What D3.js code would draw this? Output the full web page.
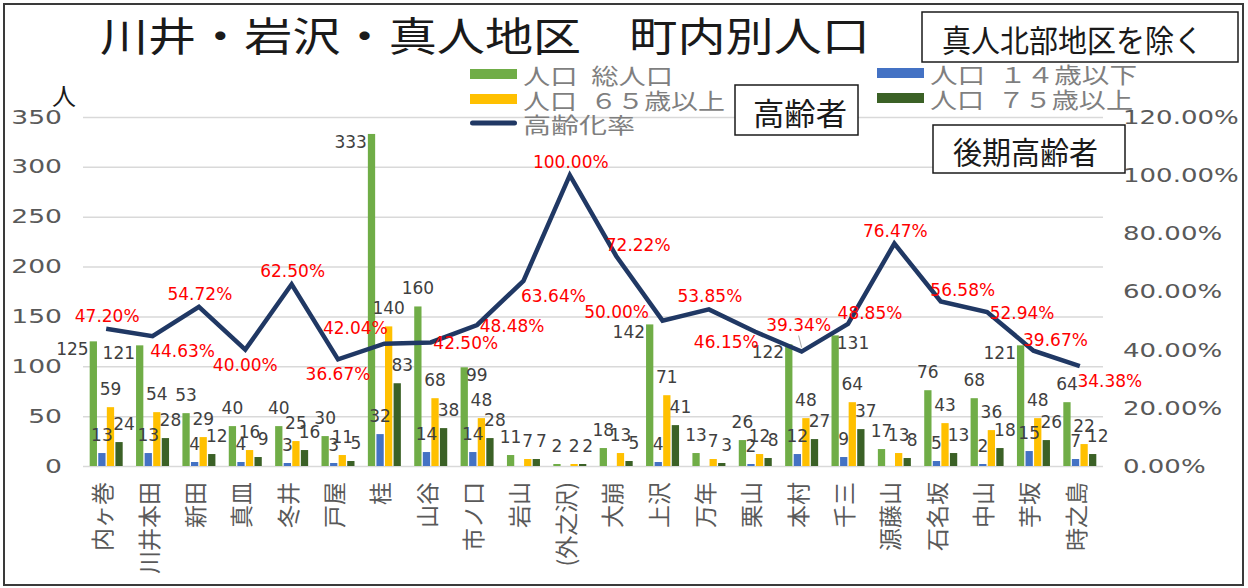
<!DOCTYPE html>
<html>
<head>
<meta charset="utf-8">
<script src="https://cdn.jsdelivr.net/npm/d3@7"></script>
<style>
  body { margin: 0; background: #fff; }
  svg { display: block; }
</style>
</head>
<body>
<div id="chart"></div>
<script>
// --- data ---
const categories = ["内ヶ巻", "川井本田", "新田", "真皿", "冬井", "戸屋", "桂", "山谷", "市ノ口", "岩山", "(外之沢)",
    "大崩", "上沢", "万年", "栗山", "本村", "千三", "源藤山", "石名坂", "中山", "芋坂", "時之島"];
const totalPop = [125, 121, 53, 40, 40, 30, 333, 160, 99, 11, 2, 18, 142, 13, 26, 122, 131, 17, 76, 68, 121, 64];
const under14  = [13, 13, 4, 4, 3, 3, 32, 14, 14, null, null, null, 4, null, 2, 12, 9, null, 5, 2, 15, 7];
const over65   = [59, 54, 29, 16, 25, 11, 140, 68, 48, 7, 2, 13, 71, 7, 12, 48, 64, 13, 43, 36, 48, 22];
const over75   = [24, 28, 12, 9, 16, 5, 83, 38, 28, 7, 2, 5, 41, 3, 8, 27, 37, 8, 13, 18, 26, 12];
const agingRate = [47.20, 44.63, 54.72, 40.00, 62.50, 36.67, 42.04, 42.50, 48.48, 63.64, 100.00,
    72.22, 50.00, 53.85, 46.15, 39.34, 48.85, 76.47, 56.58, 52.94, 39.67, 34.38];

const seriesNames = ["人口\u2002総人口", "人口\u2002１４歳以下", "人口\u2002６５歳以上", "人口\u2002７５歳以上"];
const rateName = "高齢化率";
const leftTicks = [0, 50, 100, 150, 200, 250, 300, 350];
const rightTicks = [0, 0.2, 0.4, 0.6, 0.8, 1.0, 1.2];

// where the labels were dragged to in the original (placement keywords, not data)
const totalLabelSide = ["l", "l", "t", "t", "t", "t", "l", "t", "r", "t", "t", "t", "l", "t", "t", "l", "r", "t", "t", "t", "l", "t"];
const rateLabelSide = ["t", "br", "t", "b", "t", "b", "tl", "r", "r", "br", "t", "tr", "l", "t", "bl", "tt", "tr", "t", "tr", "r", "tr", "br"];

const colors = ["#70ad47", "#4472c4", "#ffc000", "#3b6126"];
const lineColor = "#203864";
const jp = "'Noto Sans CJK JP', 'Noto Sans', sans-serif";
const num = "'DejaVu Sans', sans-serif";

const W = 1248, H = 588;
const plot = { left: 83, right: 1103, top: 117, bottom: 466 };

const svg = d3.select("#chart").append("svg")
    .attr("width", W)
    .attr("height", H);

svg.append("rect")
    .attr("x", 4).attr("y", 4)
    .attr("width", 1239).attr("height", 581)
    .attr("fill", "#fff")
    .attr("stroke", "#3a3a3a")
    .attr("stroke-width", 2);

function widen(sel, k) {
    sel.each(function () {
        const w = this.getComputedTextLength();
        d3.select(this).attr("textLength", w * k).attr("lengthAdjust", "spacingAndGlyphs");
    });
}

const x = d3.scaleBand().domain(categories).range([plot.left, plot.right]);
const x1 = d3.scaleBand().domain(d3.range(4)).range([-16.5, 16.5]).paddingInner(0.15);
const y = d3.scaleLinear().domain([0, 350]).range([plot.bottom, plot.top]);
const y2 = d3.scaleLinear().domain([0, 1.2]).range([plot.bottom, plot.top]);
const cx = c => x(c) + x.bandwidth() / 2;

// gridlines
const grid = svg.append("g")
    .attr("transform", `translate(${plot.left},0)`)
    .call(d3.axisLeft(y).tickValues(leftTicks).tickSize(-(plot.right - plot.left)).tickFormat(""));
grid.select(".domain").remove();
grid.selectAll("line").attr("stroke", "#d9d9d9").attr("stroke-width", 1.5);

// left axis labels
const yAxis = svg.append("g")
    .attr("transform", `translate(${plot.left},0)`)
    .call(d3.axisLeft(y).tickValues(leftTicks).tickSize(0).tickPadding(21));
yAxis.select(".domain").remove();
yAxis.selectAll("text")
    .attr("fill", "#595959")
    .style("font-family", num)
    .style("font-size", "19px");
widen(yAxis.selectAll("text"), 1.4);

// right axis labels
const y2Axis = svg.append("g")
    .attr("transform", `translate(${plot.right},0)`)
    .call(d3.axisRight(y2).tickValues(rightTicks).tickSize(0).tickPadding(20)
        .tickFormat(d => (d * 100).toFixed(2) + "%"));
y2Axis.select(".domain").remove();
y2Axis.selectAll("text")
    .attr("fill", "#595959")
    .style("font-family", num)
    .style("font-size", "20px");
widen(y2Axis.selectAll("text"), 1.3);

// category labels
svg.append("g").selectAll("text")
    .data(categories)
    .enter()
    .append("text")
    .attr("transform", d => `translate(${cx(d) - 5},482) rotate(-90)`)
    .attr("text-anchor", "end")
    .attr("dominant-baseline", "central")
    .attr("fill", "#595959")
    .style("font-family", jp)
    .style("font-size", "23px")
    .text(d => d);

// bars
const rows = categories.map((c, i) => ({
    c: c,
    vals: [totalPop[i], under14[i], over65[i], over75[i]],
    side: totalLabelSide[i]
}));

const groups = svg.append("g").selectAll("g")
    .data(rows)
    .enter()
    .append("g")
    .attr("transform", d => `translate(${cx(d.c)},0)`);

groups.selectAll("rect")
    .data(d => d.vals.map((v, k) => ({ v: v, k: k })).filter(e => e.v != null))
    .enter()
    .append("rect")
    .attr("x", e => x1(e.k))
    .attr("y", e => y(e.v))
    .attr("width", x1.bandwidth())
    .attr("height", e => y(0) - y(e.v))
    .attr("fill", e => colors[e.k]);

// bar value labels
groups.selectAll("text")
    .data(d => d.vals.map((v, k) => ({ v: v, k: k, side: d.side })).filter(e => e.v != null))
    .enter()
    .append("text")
    .attr("x", e => {
        if (e.k === 0 && e.side === "l") return x1(0) - 1;
        if (e.k === 0 && e.side === "r") return x1(0) + x1.bandwidth() - 2;
        return x1(e.k) + x1.bandwidth() / 2 + (e.k === 3 ? 5 : 0);
    })
    .attr("y", e => {
        if (e.k === 0 && e.side !== "t") return y(e.v) + 8;
        return y(e.v) - 18;
    })
    .attr("dominant-baseline", "central")
    .attr("text-anchor", e => {
        if (e.k === 0 && e.side === "l") return "end";
        if (e.k === 0 && e.side === "r") return "start";
        return "middle";
    })
    .attr("fill", "#404040")
    .style("font-family", num)
    .style("font-size", "17px")
    .text(e => e.v);

// aging rate line
const line = d3.line()
    .x((d, i) => cx(categories[i]))
    .y(d => y2(d / 100));

svg.append("path")
    .datum(agingRate)
    .attr("d", line)
    .attr("fill", "none")
    .attr("stroke", lineColor)
    .attr("stroke-width", 4.5);

const nudge = {
    t: [1, -13], tt: [-3, -27], b: [0, 15], r: [35, 1], l: [-46, -9],
    tr: [22, -11], br: [30, 15], tl: [-29, -16], bl: [-29, 10]
};

agingRate.forEach((v, i) => {
    const px = cx(categories[i]), py = y2(v / 100);
    const o = nudge[rateLabelSide[i]];
    if (rateLabelSide[i] === "tt") {
        svg.append("line")
            .attr("x1", px - 3).attr("y1", py - 16)
            .attr("x2", px).attr("y2", py - 4)
            .attr("stroke", "#a6a6a6").attr("stroke-width", 1);
    }
    svg.append("text")
        .attr("x", px + o[0])
        .attr("y", py + o[1])
        .attr("text-anchor", "middle")
        .attr("dominant-baseline", "central")
        .attr("fill", "#ff0000")
        .style("font-family", num)
        .style("font-size", "17px")
        .text(v.toFixed(2) + "%");
});

// title
svg.append("text")
    .attr("x", 100).attr("y", 51)
    .attr("textLength", 770).attr("lengthAdjust", "spacingAndGlyphs")
    .attr("fill", "#1a1a1a")
    .style("font-family", jp)
    .style("font-size", "40px")
    .text("川井・岩沢・真人地区\u3000町内別人口");

// unit
svg.append("text")
    .attr("x", 64).attr("y", 94)
    .attr("text-anchor", "middle")
    .attr("dominant-baseline", "central")
    .attr("fill", "#1a1a1a")
    .style("font-family", jp)
    .style("font-size", "24px")
    .text("人");

// legend
const legendItems = [
    { name: seriesNames[0], color: colors[0], lx: 470, ly: 74, w: 150 },
    { name: seriesNames[2], color: colors[2], lx: 470, ly: 99, w: 202 },
    { name: rateName, color: lineColor, lx: 470, ly: 123, w: 112, line: true },
    { name: seriesNames[1], color: colors[1], lx: 877, ly: 73, w: 207 },
    { name: seriesNames[3], color: colors[3], lx: 877, ly: 98, w: 203 }
];
const legend = svg.append("g").selectAll("g")
    .data(legendItems)
    .enter()
    .append("g")
    .attr("transform", d => `translate(${d.lx},${d.ly})`);

legend.append("rect")
    .attr("x", 0)
    .attr("y", d => d.line ? -2.5 : -5)
    .attr("width", 47)
    .attr("height", d => d.line ? 5 : 10)
    .attr("rx", d => d.line ? 2.5 : 0)
    .attr("fill", d => d.color);

legend.append("text")
    .attr("x", 53)
    .attr("y", 0)
    .attr("dominant-baseline", "central")
    .attr("textLength", d => d.w)
    .attr("lengthAdjust", "spacingAndGlyphs")
    .attr("fill", "#7f7f7f")
    .style("font-family", jp)
    .style("font-size", "22px")
    .text(d => d.name);

// callout boxes
const notes = [
    { text: "真人北部地区を除く", x: 922, y: 12, w: 316, h: 50, tx: 942, tw: 261, fs: 31 },
    { text: "高齢者", x: 735, y: 85, w: 123, h: 50, tx: 753, tw: 94, fs: 31 },
    { text: "後期高齢者", x: 933, y: 125, w: 192, h: 48, tx: 953, tw: 145, fs: 31 }
];
notes.forEach(n => {
    svg.append("rect")
        .attr("x", n.x).attr("y", n.y)
        .attr("width", n.w).attr("height", n.h)
        .attr("fill", "#fff")
        .attr("stroke", "#1a1a1a")
        .attr("stroke-width", 1.5);
    svg.append("text")
        .attr("x", n.tx).attr("y", n.y + n.h / 2 + 1)
        .attr("dominant-baseline", "central")
        .attr("textLength", n.tw).attr("lengthAdjust", "spacingAndGlyphs")
        .attr("fill", "#1a1a1a")
        .style("font-family", jp)
        .style("font-size", n.fs + "px")
        .text(n.text);
});
</script>
</body>
</html>
